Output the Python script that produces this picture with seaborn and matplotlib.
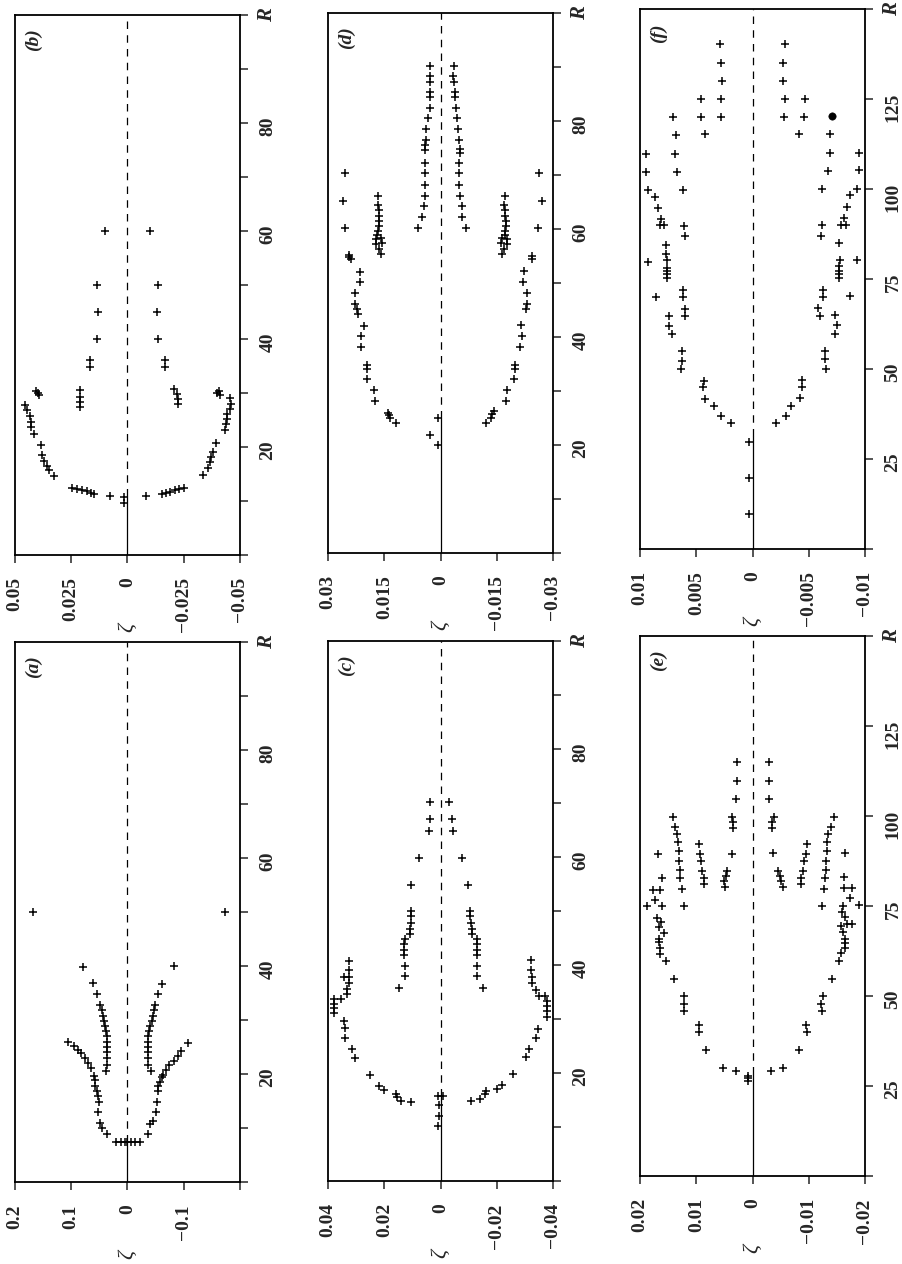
import matplotlib

matplotlib.use("Agg")
import matplotlib.pyplot as plt
import pandas as pd
import seaborn as sns

# (R, zeta); positive zeta plotted on the left (figure is turned 90 degrees)
pts_a = [
    (7.4, 0.021), (7.4, 0.012), (7.4, 0.005), (7.4, 0.0), (7.4, -0.006), (7.4, -0.013), (7.4, -0.022),
    (8.8, 0.037), (10.0, 0.045), (11.0, 0.049), (12.9, 0.052), (14.9, 0.051), (16.0, 0.052),
    (16.8, 0.055), (17.8, 0.057), (18.8, 0.058), (19.6, 0.060), (21.2, 0.065), (22.0, 0.070),
    (23.0, 0.076), (23.8, 0.082), (24.5, 0.088), (25.1, 0.095), (26.0, 0.106),
    (20.6, 0.039), (21.7, 0.036), (23.0, 0.036), (24.0, 0.036), (25.0, 0.036), (26.0, 0.037),
    (27.0, 0.037), (27.9, 0.039), (28.9, 0.040), (29.9, 0.042), (30.8, 0.043), (31.8, 0.046),
    (32.8, 0.048), (34.8, 0.055), (36.8, 0.062), (39.8, 0.080), (50.0, 0.168),
    (8.8, -0.036), (10.8, -0.040), (11.3, -0.046), (12.9, -0.051), (14.9, -0.052), (16.8, -0.054),
    (17.8, -0.055), (18.6, -0.058), (19.4, -0.061), (19.9, -0.064), (20.7, -0.068), (21.6, -0.074),
    (22.5, -0.082), (23.4, -0.089), (24.3, -0.096), (25.8, -0.107),
    (20.6, -0.042), (21.7, -0.037), (23.0, -0.036), (24.0, -0.036), (25.0, -0.036), (26.0, -0.036),
    (27.0, -0.037), (27.9, -0.039), (28.9, -0.040), (29.9, -0.043), (30.8, -0.046), (31.8, -0.048),
    (32.8, -0.049), (34.8, -0.054), (36.7, -0.062), (40.0, -0.082), (50.0, -0.173),
]

pts_b = [
    (10.7, 0.0015), (9.7, 0.0015), (11.0, 0.0077),
    (11.3, 0.0149), (11.5, 0.0164), (11.8, 0.0182), (12.0, 0.0201), (12.2, 0.0223), (12.5, 0.0246),
    (14.6, 0.0327), (15.7, 0.0350), (16.5, 0.0357), (17.5, 0.0372), (18.5, 0.0379), (20.4, 0.0384),
    (22.5, 0.0417), (23.7, 0.0429), (24.7, 0.0429), (25.8, 0.0435), (26.8, 0.0446), (27.7, 0.0454),
    (30.0, 0.0400), (30.3, 0.0405), (29.7, 0.0395),
    (30.5, 0.0211), (29.3, 0.0213), (28.3, 0.0213), (27.4, 0.0213),
    (34.8, 0.0167), (36.1, 0.0167), (40.0, 0.0134), (45.0, 0.0129), (50.0, 0.0137), (60.0, 0.0101),
    (11.0, -0.0082),
    (11.3, -0.0152), (11.5, -0.0171), (11.7, -0.0190), (12.0, -0.0211), (12.2, -0.0231), (12.5, -0.0253),
    (14.9, -0.0335), (16.2, -0.0357), (17.2, -0.0365), (18.1, -0.0372), (19.0, -0.0382), (20.7, -0.0394),
    (23.2, -0.0432), (24.2, -0.0439), (25.1, -0.0443), (26.2, -0.0443), (27.1, -0.0454), (28.0, -0.0458),
    (29.0, -0.0455),
    (30.3, -0.0405), (30.0, -0.0400), (29.7, -0.0410),
    (30.8, -0.0208), (29.8, -0.0219), (28.9, -0.0223), (27.9, -0.0223),
    (34.8, -0.0167), (36.1, -0.0167), (40.0, -0.0134), (45.0, -0.0131), (50.0, -0.0134), (60.0, -0.0101),
]

pts_c = [
    (10.1, 0.0008), (12.0, 0.0006), (14.0, 0.0006), (15.7, 0.0010), (15.7, -0.0010),
    (14.7, 0.0106), (14.8, 0.0139), (15.5, 0.0154), (16.1, 0.0157), (16.8, 0.0201), (17.6, 0.0217),
    (19.6, 0.0252), (22.7, 0.0303), (24.4, 0.0315), (26.5, 0.0339), (28.4, 0.0339), (29.7, 0.0344),
    (31.2, 0.0377), (32.0, 0.0377), (32.8, 0.0377), (33.7, 0.0377), (33.7, 0.0353),
    (34.6, 0.0332), (35.6, 0.0332), (36.6, 0.0327), (37.7, 0.0344), (37.7, 0.0327), (39.0, 0.0327),
    (40.8, 0.0324),
    (35.8, 0.0149), (37.9, 0.0127), (39.9, 0.0127), (41.8, 0.0130), (42.8, 0.0130), (43.8, 0.0130),
    (44.8, 0.0127), (45.8, 0.0110), (46.7, 0.0110), (47.7, 0.0106), (49.0, 0.0104), (50.0, 0.0104),
    (54.9, 0.0104), (59.9, 0.0077), (64.9, 0.0042), (67.0, 0.0038), (70.1, 0.0038),
    (14.8, -0.0108), (15.2, -0.0140), (16.1, -0.0158), (16.6, -0.0160), (17.0, -0.0200), (17.8, -0.0218),
    (19.9, -0.0256), (22.9, -0.0303), (24.5, -0.0315), (26.5, -0.0339), (28.1, -0.0346),
    (30.4, -0.0378), (31.4, -0.0378), (32.4, -0.0378), (33.3, -0.0378), (34.3, -0.0372), (34.3, -0.0349),
    (35.3, -0.0340), (36.6, -0.0325), (37.7, -0.0325), (39.0, -0.0322), (41.0, -0.0322),
    (35.8, -0.0152), (37.9, -0.0129), (39.9, -0.0129), (41.8, -0.0129), (42.8, -0.0129), (43.8, -0.0129),
    (44.8, -0.0129), (45.8, -0.0113), (46.7, -0.0111), (47.7, -0.0108), (49.0, -0.0105), (50.0, -0.0105),
    (54.9, -0.0096), (59.9, -0.0078), (64.9, -0.0045), (67.0, -0.0042), (70.1, -0.0031),
]

pts_d = [
    (25.0, 0.0006), (21.9, 0.0027), (20.0, 0.0006),
    (24.0, 0.0118), (25.0, 0.0134), (25.5, 0.0138), (26.0, 0.0140), (28.1, 0.0175), (30.1, 0.0178),
    (32.2, 0.0196), (34.1, 0.0196), (34.9, 0.0196), (38.2, 0.0211), (40.1, 0.0211), (42.1, 0.0205),
    (44.2, 0.0220), (45.2, 0.0223), (46.2, 0.0227), (48.2, 0.0229), (50.1, 0.0216), (52.1, 0.0216),
    (54.4, 0.0240), (54.8, 0.0243), (55.2, 0.0245), (60.2, 0.0255), (65.1, 0.0261), (70.3, 0.0255),
    (55.3, 0.0160), (56.3, 0.0163), (57.3, 0.0172), (57.5, 0.0155), (58.1, 0.0172), (58.3, 0.0160),
    (58.9, 0.0169), (59.6, 0.0166), (60.5, 0.0165), (61.5, 0.0163), (62.5, 0.0163), (63.5, 0.0165),
    (64.5, 0.0166), (66.2, 0.0166),
    (60.2, 0.0060), (62.3, 0.0049), (64.3, 0.0045), (66.1, 0.0042), (68.1, 0.0042), (70.3, 0.0042),
    (72.3, 0.0042), (74.6, 0.0042), (75.6, 0.0042), (76.5, 0.0040), (78.5, 0.0038), (80.5, 0.0033),
    (82.4, 0.0029), (84.4, 0.0027), (85.3, 0.0027), (87.3, 0.0027), (88.3, 0.0027), (90.2, 0.0027),
    (60.2, -0.0067), (62.3, -0.0056), (64.3, -0.0056), (66.1, -0.0053), (68.1, -0.0049), (70.3, -0.0049),
    (72.3, -0.0049), (74.0, -0.0053), (74.8, -0.0053), (76.5, -0.0049), (78.5, -0.0047), (80.5, -0.0045),
    (82.4, -0.0040), (84.4, -0.0038), (85.3, -0.0038), (87.3, -0.0036), (88.3, -0.0034), (90.2, -0.0036),
    (55.3, -0.0165), (56.3, -0.0170), (57.3, -0.0178), (57.5, -0.0160), (58.1, -0.0176), (58.3, -0.0165),
    (58.9, -0.0172), (59.6, -0.0172), (60.5, -0.0175), (61.5, -0.0175), (62.5, -0.0172), (63.5, -0.0172),
    (64.5, -0.0170), (66.2, -0.0172),
    (70.3, -0.0263), (65.1, -0.0270), (60.2, -0.0260), (54.4, -0.0245), (55.0, -0.0243), (52.3, -0.0223),
    (50.2, -0.0220), (48.2, -0.0231), (46.2, -0.0231), (45.2, -0.0228), (42.3, -0.0214), (40.1, -0.0216),
    (38.2, -0.0211), (34.8, -0.0198), (34.0, -0.0198), (32.2, -0.0196), (30.1, -0.0178), (28.1, -0.0174),
    (26.3, -0.0142), (25.7, -0.0138), (25.0, -0.0134), (24.0, -0.0120),
]

pts_e = [
    (27.9, 0.0008), (27.1, 0.0008), (26.5, 0.0008),
    (29.1, 0.0030), (30.0, 0.0052), (34.9, 0.0082), (40.0, 0.0095), (42.0, 0.0095), (45.8, 0.0122),
    (47.8, 0.0121), (50.0, 0.0122), (54.8, 0.0139), (59.7, 0.0153),
    (61.8, 0.0165), (63.3, 0.0165), (64.9, 0.0167), (65.7, 0.0167), (67.6, 0.0158), (69.1, 0.0167),
    (70.5, 0.0162), (71.7, 0.0170), (74.9, 0.0187), (76.6, 0.0173), (74.9, 0.0161), (79.5, 0.0177),
    (79.5, 0.0164), (82.7, 0.0161), (89.4, 0.0168),
    (99.6, 0.0141), (96.9, 0.0137), (95.0, 0.0134), (92.8, 0.0133), (90.4, 0.0131), (87.5, 0.0131),
    (85.1, 0.0129), (82.7, 0.0129), (79.7, 0.0125), (74.9, 0.0121),
    (92.3, 0.0095), (89.4, 0.0093), (87.5, 0.0092), (84.6, 0.0089), (82.7, 0.0087), (81.2, 0.0087),
    (84.6, 0.0046), (83.3, 0.0048), (82.0, 0.0051), (80.4, 0.0049),
    (89.4, 0.0036), (99.6, 0.0037), (98.2, 0.0034), (96.7, 0.0034), (104.7, 0.0030), (109.8, 0.0028),
    (114.9, 0.0028),
    (29.1, -0.0033), (30.0, -0.0055), (34.9, -0.0082), (40.0, -0.0097), (42.0, -0.0095), (45.8, -0.0123),
    (47.8, -0.0122), (50.0, -0.0125), (54.8, -0.0141), (59.7, -0.0153),
    (62.0, -0.0158), (63.3, -0.0165), (64.7, -0.0165), (65.7, -0.0165), (67.8, -0.0161), (69.4, -0.0158),
    (70.1, -0.0168), (70.1, -0.0176), (72.0, -0.0164), (73.4, -0.0159), (75.2, -0.0189), (77.1, -0.0173),
    (74.9, -0.0161), (80.0, -0.0176), (80.0, -0.0162), (83.1, -0.0162), (89.7, -0.0165),
    (99.8, -0.0145), (96.9, -0.0139), (95.0, -0.0135), (92.8, -0.0133), (90.4, -0.0133), (87.5, -0.0131),
    (85.1, -0.0131), (82.7, -0.0129), (79.7, -0.0127), (74.9, -0.0123),
    (92.3, -0.0097), (89.4, -0.0095), (87.5, -0.0092), (84.6, -0.0089), (82.7, -0.0086), (81.2, -0.0086),
    (84.6, -0.0046), (83.3, -0.0048), (82.0, -0.0051), (80.4, -0.0054),
    (89.7, -0.0037), (99.6, -0.0039), (98.2, -0.0034), (96.7, -0.0034), (104.7, -0.0030), (109.8, -0.0030),
    (114.9, -0.0030),
]

pts_f = [
    (9.6, 0.0003), (19.7, 0.0003), (29.8, 0.0003),
    (34.9, 0.0019), (36.9, 0.0028), (39.8, 0.0034), (41.7, 0.0042), (45.1, 0.0044), (46.6, 0.0043),
    (50.0, 0.0064), (52.1, 0.0063), (54.9, 0.0063), (59.7, 0.0072), (61.9, 0.0074), (64.6, 0.0074),
    (64.8, 0.0060), (66.7, 0.0060), (69.9, 0.0062), (71.9, 0.0062), (69.9, 0.0086),
    (75.3, 0.0076), (76.3, 0.0076), (77.2, 0.0076), (78.0, 0.0076), (80.2, 0.0076), (82.0, 0.0077),
    (84.5, 0.0077), (79.7, 0.0093), (87.0, 0.0060), (89.7, 0.0061), (89.9, 0.0082), (89.9, 0.0079),
    (91.8, 0.0081), (94.6, 0.0084), (97.7, 0.0087), (99.8, 0.0093), (104.7, 0.0095), (109.8, 0.0095),
    (99.8, 0.0062), (104.7, 0.0067), (109.8, 0.0069), (115.0, 0.0068), (120.0, 0.0071),
    (115.2, 0.0042), (120.0, 0.0046), (125.1, 0.0046),
    (120.0, 0.0028), (125.1, 0.0028), (130.0, 0.0027), (135.1, 0.0028), (140.3, 0.0029),
    (34.9, -0.0021), (36.9, -0.0030), (39.8, -0.0034), (42.0, -0.0042), (45.1, -0.0044), (47.0, -0.0044),
    (50.0, -0.0065), (52.7, -0.0064), (54.9, -0.0064), (59.7, -0.0073), (62.2, -0.0075), (65.1, -0.0073),
    (64.8, -0.0060), (67.0, -0.0058), (69.9, -0.0063), (71.9, -0.0063), (70.2, -0.0087),
    (75.3, -0.0077), (76.3, -0.0077), (77.2, -0.0077), (78.7, -0.0077), (80.2, -0.0078), (85.0, -0.0077),
    (80.2, -0.0093), (87.0, -0.0061), (89.9, -0.0062), (90.0, -0.0079), (90.0, -0.0083), (92.0, -0.0081),
    (94.9, -0.0084), (98.2, -0.0087), (100.1, -0.0093), (105.4, -0.0095), (110.1, -0.0095),
    (100.1, -0.0062), (105.0, -0.0067), (110.1, -0.0069), (115.2, -0.0069),
    (115.2, -0.0041), (120.0, -0.0046), (125.1, -0.0047),
    (120.0, -0.0028), (125.1, -0.0029), (130.0, -0.0027), (135.1, -0.0027), (140.3, -0.0029),
]
dot_f = [(120.2, -0.0071)]  # the single filled point in (f)

# R where the single zeta = 0 state splits (solid below, dashed above)
split_r = {"a": 7.4, "b": 11.0, "c": 15.7, "d": 25.0, "e": 28.4, "f": 31.5}

zeta_ticks = {
    "a": [0.2, 0.1, 0, -0.1, -0.2],
    "b": [0.05, 0.025, 0, -0.025, -0.05],
    "c": [0.04, 0.02, 0, -0.02, -0.04],
    "d": [0.03, 0.015, 0, -0.015, -0.03],
    "e": [0.02, 0.01, 0, -0.01, -0.02],
    "f": [0.01, 0.005, 0, -0.005, -0.01],
}
zeta_labels = {
    "a": ["0.2", "0.1", "0", "\u22120.1", ""],
    "b": ["0.05", "0.025", "0", "\u22120.025", "\u22120.05"],
    "c": ["0.04", "0.02", "0", "\u22120.02", "\u22120.04"],
    "d": ["0.03", "0.015", "0", "\u22120.015", "\u22120.03"],
    "e": ["0.02", "0.01", "0", "\u22120.01", "\u22120.02"],
    "f": ["0.01", "0.005", "0", "\u22120.005", "\u22120.01"],
}
r_ticks_short = [0, 10, 20, 30, 40, 50, 60, 70, 80, 90, 100]
r_labels_short = ["", "", "20", "", "40", "", "60", "", "80", "", ""]
r_ticks_long = [0, 25, 50, 75, 100, 125, 150]
r_labels_long = ["", "25", "50", "75", "100", "125", ""]

panels = {"a": pts_a, "b": pts_b, "c": pts_c, "d": pts_d, "e": pts_e, "f": pts_f}

# axes boxes in figure fractions (picture is 902 x 1264 px)
W, H = 902, 1264
boxes = {
    "b": (15, 15), "a": (15, 642),
    "d": (328, 13), "c": (328, 641),
    "f": (640, 9), "e": (640, 636),
}
PW, PH = 225, 540

sns.set_theme(style="ticks")
plt.rcParams["font.family"] = ["Liberation Serif", "DejaVu Serif"]

fig = plt.figure(figsize=(W / 100, H / 100), dpi=100)

for key, pts in panels.items():
    x0, y0 = boxes[key]
    ax = fig.add_axes([x0 / W, 1 - (y0 + PH) / H, PW / W, PH / H])
    df = pd.DataFrame(pts, columns=["R", "zeta"])
    lim = zeta_ticks[key][0]
    long_axis = key in ("e", "f")
    rmax = 150 if long_axis else 100

    sr = split_r[key]
    ax.plot([0, 0], [0, sr], color="black", lw=0.9)
    ax.plot([0, 0], [sr, rmax], color="black", lw=0.9, dashes=(6, 5))

    sns.scatterplot(data=df, x="zeta", y="R", ax=ax, marker="+", color="black",
                    s=26, linewidth=1.1, legend=False, zorder=3)
    if key == "f":
        dd = pd.DataFrame(dot_f, columns=["R", "zeta"])
        sns.scatterplot(data=dd, x="zeta", y="R", ax=ax, marker="o", color="black",
                        s=28, edgecolor="black", legend=False, zorder=3)

    ax.set_xlim(lim, -lim)
    ax.set_ylim(0, rmax)
    ax.set_xticks(zeta_ticks[key])
    ax.set_xticklabels(zeta_labels[key])
    if long_axis:
        ax.set_yticks(r_ticks_long)
        ax.set_yticklabels(r_labels_long)
    else:
        ax.set_yticks(r_ticks_short)
        ax.set_yticklabels(r_labels_short)
    ax.set_xlabel("")
    ax.set_ylabel("")

    ax.yaxis.tick_right()
    ax.tick_params(axis="x", direction="out", length=6, width=1.1, pad=10,
                   labelsize=14, labelrotation=90)
    ax.tick_params(axis="y", direction="out", length=6, width=1.1, pad=8,
                   labelsize=14, labelrotation=90, left=False, right=True,
                   labelleft=False, labelright=True)
    for lab in ax.get_xticklabels() + ax.get_yticklabels():
        lab.set_fontweight("bold")
    for sp in ax.spines.values():
        sp.set_linewidth(1.3)
        sp.set_color("black")

    ax.text(0.08, 0.955, f"({key})", transform=ax.transAxes, rotation=90,
            ha="center", va="center", fontsize=14, style="italic", fontweight="bold")
    ax.text(1.12, 1.0, "R", transform=ax.transAxes, rotation=90,
            ha="center", va="center", fontsize=15, style="italic", fontweight="bold")
    ax.text(0.5, -0.135, "\u03b6", transform=ax.transAxes, rotation=90,
            ha="center", va="center", fontsize=16, style="italic")

fig.savefig("out.png", dpi=100)
